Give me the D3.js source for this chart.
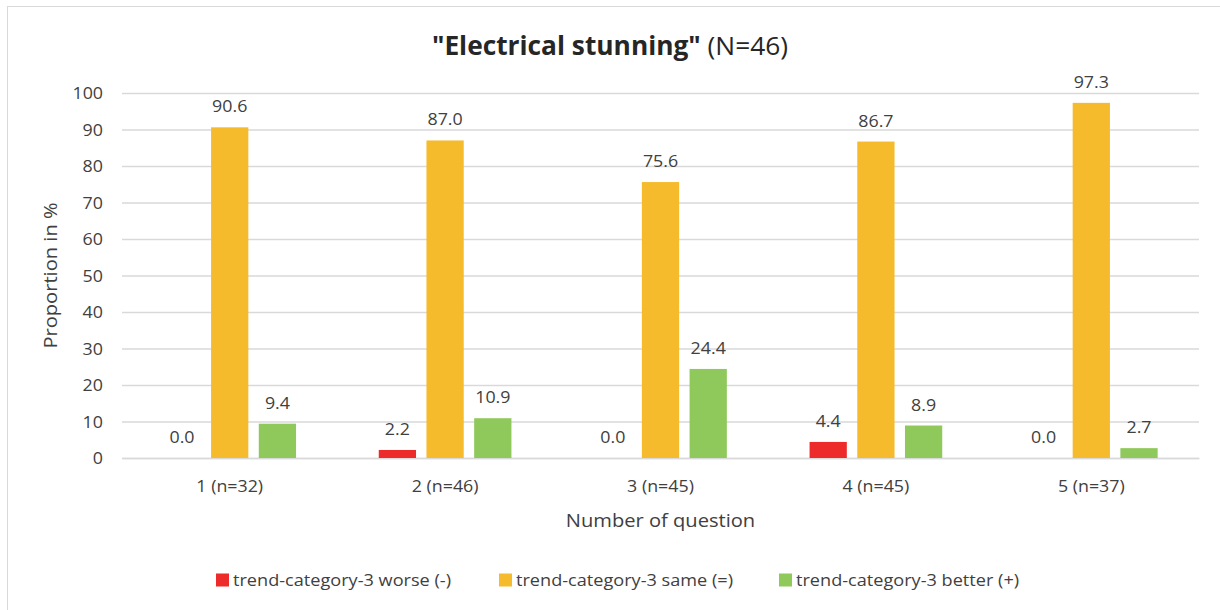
<!DOCTYPE html>
<html>
<head>
<meta charset="utf-8">
<script src="https://cdn.jsdelivr.net/npm/d3@7"></script>
<style>
  html, body { margin: 0; padding: 0; background: #fff; }
  svg { display: block; }
  text { font-family: "Open Sans", "Noto Sans", sans-serif; fill: #404040; }
</style>
</head>
<body>
<svg id="chart" width="1220" height="610"></svg>
<script>
// Questions on the x axis
const categories = ["1 (n=32)", "2 (n=46)", "3 (n=45)", "4 (n=45)", "5 (n=37)"];
// Share of answers per trend category (%)
const worse  = [0.0, 2.2, 0.0, 4.4, 0.0];
const same   = [90.6, 87.0, 75.6, 86.7, 97.3];
const better = [9.4, 10.9, 24.4, 8.9, 2.7];
const seriesNames = ["trend-category-3 worse (-)", "trend-category-3 same (=)", "trend-category-3 better (+)"];
const seriesColors = ["#ED2B2B", "#F6BB2C", "#8FC95B"];
const yTicks = [0, 10, 20, 30, 40, 50, 60, 70, 80, 90, 100];

const series = [worse, same, better];
const FONT = "'Open Sans', 'Noto Sans', sans-serif";

// widen glyphs horizontally (keeps anchor position)
function widen(sel, sx) {
  sel.each(function () {
    const t = d3.select(this);
    const x = +(t.attr("x") || 0);
    const y = +(t.attr("y") || 0);
    t.attr("x", 0).attr("y", 0);
    const prev = t.attr("transform") || "";
    t.attr("transform", `${prev} translate(${x},${y}) scale(${sx},1)`);
  });
}

const svg = d3.select("#chart");
const W = 1220, H = 610;
const plot = { left: 122, right: 1199, top: 93, bottom: 458 };

// chart frame (left and top edges visible)
svg.append("rect")
  .attr("x", 7.5).attr("y", 6.5).attr("width", W + 10).attr("height", H + 10)
  .attr("fill", "none").attr("stroke", "#d9d9d9").attr("stroke-width", 1);

const x0 = d3.scaleBand().domain(categories).range([plot.left, plot.right]).padding(0);
const y = d3.scaleLinear().domain([0, 100]).range([plot.bottom, plot.top]);

// gridlines + y tick labels
const yAxis = d3.axisLeft(y).tickValues(yTicks).tickSize(-(plot.right - plot.left)).tickPadding(19);
const gy = svg.append("g").attr("transform", `translate(${plot.left},0)`).call(yAxis);
gy.select(".domain").remove();
gy.selectAll(".tick line").attr("stroke", "#d9d9d9").attr("stroke-width", 1.3);
gy.selectAll(".tick text").attr("font-size", 15.5).attr("fill", "#404040").style("font-family", FONT)
  .attr("dy", null).attr("y", 5.5);
widen(gy.selectAll(".tick text"), 1.15);

// x axis labels
const xAxis = d3.axisBottom(x0).tickSize(0).tickPadding(19);
const gx = svg.append("g").attr("transform", `translate(0,${plot.bottom})`).call(xAxis);
gx.select(".domain").attr("stroke", "#d9d9d9").attr("stroke-width", 1.3);
gx.selectAll(".tick text").attr("font-size", 15.5).attr("fill", "#404040").style("font-family", FONT)
  .attr("dy", null).attr("y", 34);
widen(gx.selectAll(".tick text"), 1.15);

// bars within each group
const bw = x0.bandwidth();
const barW = bw * 0.173;
const step = bw * 0.2215;
const x1 = i => (i - 1) * step - barW / 2;

const rows = [];
categories.forEach((c, ci) => {
  series.forEach((s, si) => rows.push({ cat: c, si, v: s[ci] }));
});

const g = svg.append("g");
g.selectAll("rect.bar").data(rows).join("rect")
  .attr("class", "bar")
  .attr("x", d => x0(d.cat) + bw / 2 + x1(d.si))
  .attr("y", d => y(d.v))
  .attr("width", barW)
  .attr("height", d => y(0) - y(d.v))
  .attr("fill", d => seriesColors[d.si]);

// value labels
const vals = g.selectAll("text.val").data(rows).join("text")
  .attr("class", "val")
  .attr("x", d => x0(d.cat) + bw / 2 + x1(d.si) + barW / 2)
  .attr("y", d => y(d.v) - 15)
  .attr("text-anchor", "middle")
  .attr("font-size", 15.5)
  .text(d => d.v.toFixed(1));
widen(vals, 1.15);

// title
const title = svg.append("text")
  .attr("x", 610).attr("y", 55)
  .attr("text-anchor", "middle")
  .attr("font-size", 26.3);
title.append("tspan").attr("font-weight", "bold").attr("fill", "#262626").text("\"Electrical stunning\"");
title.append("tspan").attr("fill", "#262626").text(" (N=46)");

// axis titles
const yTitle = svg.append("text")
  .attr("transform", `translate(57,${(plot.top + plot.bottom) / 2}) rotate(-90)`)
  .attr("text-anchor", "middle")
  .attr("font-size", 17.5)
  .text("Proportion in %");
widen(yTitle, 1.15);

const xTitle = svg.append("text")
  .attr("x", (plot.left + plot.right) / 2).attr("y", 527)
  .attr("text-anchor", "middle")
  .attr("font-size", 17.5)
  .text("Number of question");
widen(xTitle, 1.15);

// legend
const legendX = [216, 499, 779];
const lg = svg.append("g").selectAll("g").data(seriesNames).join("g")
  .attr("transform", (d, i) => `translate(${legendX[i]},580)`);
lg.append("rect").attr("x", 0).attr("y", -6.5).attr("width", 13).attr("height", 13)
  .attr("fill", (d, i) => seriesColors[i]);
const lt = lg.append("text").attr("x", 17).attr("y", 6).attr("font-size", 15.5).text(d => d);
widen(lt, 1.17);
</script>
</body>
</html>
